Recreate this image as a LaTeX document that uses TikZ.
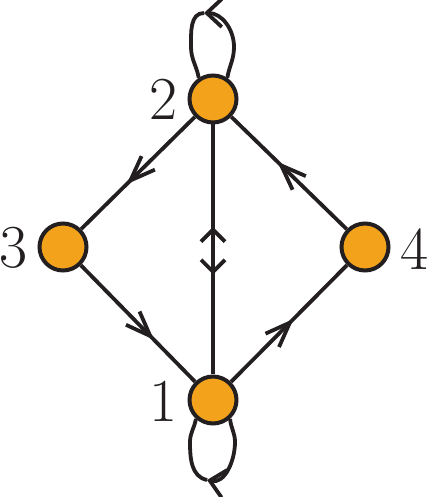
\documentclass[tikz,border=0pt]{standalone}
\usetikzlibrary{arrows.meta,decorations.markings}
\definecolor{ink}{RGB}{35,31,32}
\definecolor{orng}{RGB}{243,163,27}
\begin{document}
\begin{tikzpicture}[x=1pt,y=1pt,
  vtx/.style={circle,draw=ink,fill=orng,line width=4pt,minimum size=47pt,inner sep=0pt},
  lbl/.style={font=\fontsize{61}{61}\selectfont,text=ink,inner sep=0pt},
  conn/.style={color=ink,line width=3.8pt},
  ad/.style={postaction={decorate},decoration={markings,mark=at position #1 with {\arrow{Straight Barb[length=25pt,width=19pt]}}}},
  looptip/.style={-{Straight Barb[length=15pt,width=28pt]}},
  vmarks/.style={postaction={decorate},decoration={markings,
     mark=at position 0.41 with {\arrowreversed{Straight Barb[length=12pt,width=24pt]}},
     mark=at position 0.60 with {\arrow{Straight Barb[length=12pt,width=24pt]}}}}
]
\useasboundingbox (0,0) rectangle (427,497);
\node[vtx] (n1) at (213,97) {};
\node[vtx] (n2) at (213,398) {};
\node[vtx] (n3) at (63,250) {};
\node[vtx] (n4) at (365,250) {};
\node[lbl] (l1) at (163,96) {1};
\node[lbl] (l2) at (163,398) {2};
\node[lbl] (l3) at (13,249) {3};
\node[lbl] (l4) at (414,248) {4};
\draw[conn, ad=0.6] (n2) -- (n3);
\draw[conn, ad=0.64] (n3) -- (n1);
\draw[conn, ad=0.54] (n1) -- (n4);
\draw[conn, ad=0.6] (n4) -- (n2);
\draw[conn, vmarks] (n2) -- (n1);
% top loop
\coordinate (c2r) at (234,450);
\coordinate (c2t) at (204,484);
\coordinate (c2l) at (191,450);
\draw[conn, looptip] (n2.56) to[out=80,in=-90] (c2r) to[out=90,in=0] (c2t);
\draw[conn] (c2t) to[out=180,in=90] (c2l) to[out=-90,in=100] (n2.124);
% bottom loop
\coordinate (c1r) at (235,55);
\coordinate (c1b) at (207,17);
\coordinate (c1l) at (190,55);
\draw[conn, looptip] (n1.-48) to[out=-85,in=90] (c1r) to[out=-90,in=-12] (c1b);
\draw[conn] (c1b) to[out=168,in=-90] (c1l) to[out=90,in=-100] (n1.-132);
\end{tikzpicture}
\end{document}
